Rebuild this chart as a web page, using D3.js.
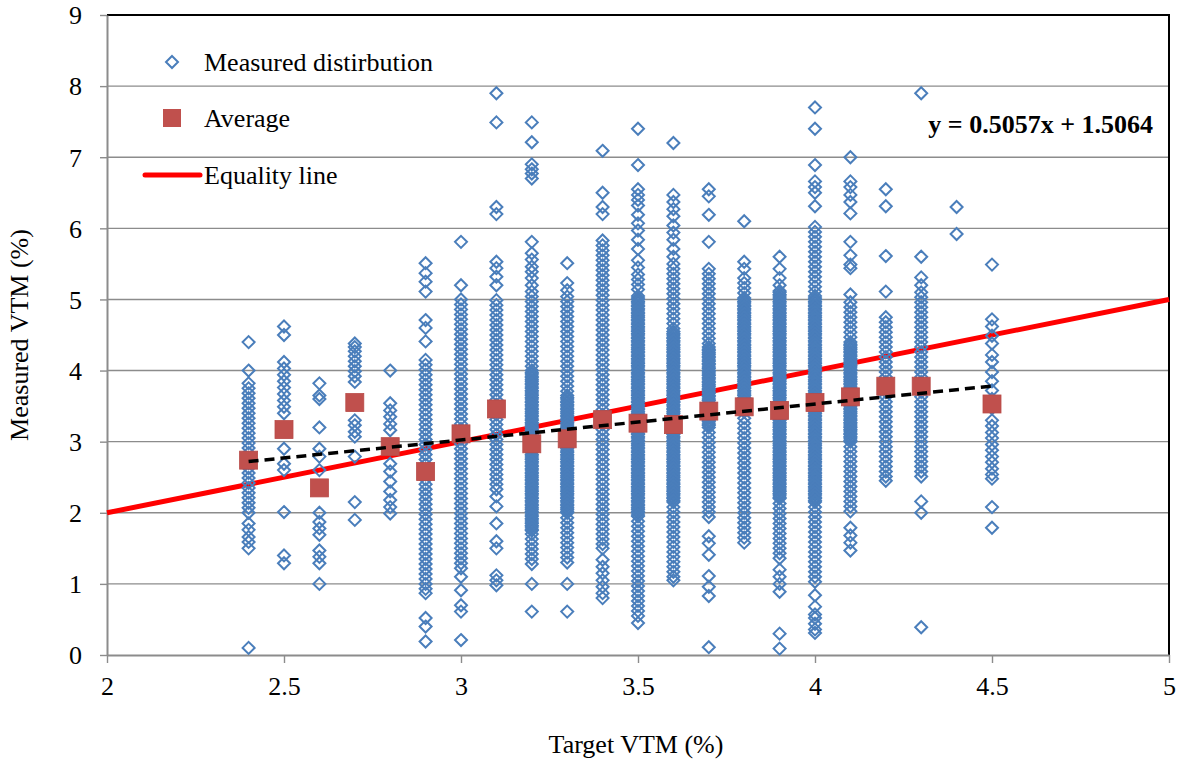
<!DOCTYPE html>
<html>
<head>
<meta charset="utf-8">
<script src="https://cdn.jsdelivr.net/npm/d3@7"></script>
<style>
  body { margin: 0; background: #fff; }
  text { font-family: "Liberation Serif", "Times New Roman", serif; }
</style>
</head>
<body>
<div class="chart"></div>
<script>
// target VTM (%) columns
var targetVTM = [2.4, 2.5, 2.6, 2.7, 2.8, 2.9, 3.0, 3.1, 3.2, 3.3, 3.4, 3.5, 3.6, 3.7, 3.8, 3.9, 4.0, 4.1, 4.2, 4.3, 4.4, 4.5];

// measured VTM (%), same order as targetVTM
var measuredVTM = [
  [4.4, 4.0, 3.82, 3.75, 3.68, 3.61, 3.54, 3.47, 3.4, 3.33, 3.26, 3.19, 3.12, 3.05, 2.98, 2.91, 2.84, 2.77, 2.7, 2.63, 2.56, 2.49, 2.42, 2.35, 2.28, 2.21, 2.14, 2.07, 2.0, 1.85, 1.76, 1.66, 1.59, 1.5, 0.1],
  [4.62, 4.5, 4.12, 4.03, 3.94, 3.85, 3.76, 3.67, 3.58, 3.49, 3.4, 2.9, 2.69, 2.6, 2.01, 1.4, 1.29],
  [3.82, 3.65, 3.6, 3.2, 2.9, 2.79, 2.6, 2.0, 1.87, 1.78, 1.69, 1.47, 1.38, 1.29, 1.0],
  [4.38, 4.33, 4.27, 4.2, 4.13, 4.06, 3.99, 3.92, 3.84, 3.3, 3.23, 3.14, 3.07, 2.79, 2.15, 1.9],
  [4.0, 3.54, 3.44, 3.35, 3.25, 3.16, 2.69, 2.58, 2.44, 2.3, 2.18, 2.08, 1.99],
  [5.51, 5.37, 5.25, 5.11, 4.71, 4.6, 4.41, 4.15, 4.08, 4.01, 3.94, 3.87, 3.8, 3.73, 3.66, 3.59, 3.52, 3.45, 3.38, 3.31, 3.24, 3.17, 3.1, 3.03, 2.96, 2.89, 2.82, 2.75, 2.68, 2.61, 2.54, 2.47, 2.4, 2.33, 2.26, 2.19, 2.12, 2.05, 1.98, 1.91, 1.84, 1.77, 1.7, 1.63, 1.56, 1.49, 1.42, 1.35, 1.28, 1.21, 1.14, 1.07, 1.0, 0.93, 0.87, 0.52, 0.4, 0.19],
  [5.81, 5.2, 5.0, 4.93, 4.86, 4.79, 4.72, 4.65, 4.58, 4.51, 4.44, 4.37, 4.3, 4.23, 4.16, 4.09, 4.02, 3.95, 3.88, 3.81, 3.74, 3.67, 3.6, 3.53, 3.46, 3.39, 3.32, 3.25, 3.18, 3.11, 3.04, 2.97, 2.9, 2.83, 2.76, 2.69, 2.62, 2.55, 2.48, 2.41, 2.34, 2.27, 2.2, 2.13, 2.06, 1.99, 1.92, 1.85, 1.78, 1.71, 1.64, 1.57, 1.5, 1.43, 1.36, 1.29, 1.22, 1.1, 0.91, 0.7, 0.61, 0.21],
  [7.9, 7.49, 6.3, 6.2, 5.53, 5.44, 5.32, 5.2, 4.99, 4.92, 4.85, 4.78, 4.71, 4.64, 4.57, 4.5, 4.43, 4.36, 4.29, 4.22, 4.15, 4.08, 4.01, 3.94, 3.87, 3.8, 3.73, 3.66, 3.59, 3.52, 3.45, 3.38, 3.31, 3.24, 3.17, 3.1, 3.03, 2.96, 2.89, 2.82, 2.75, 2.68, 2.61, 2.54, 2.47, 2.4, 2.33, 2.23, 2.09, 1.85, 1.6, 1.5, 1.12, 1.05, 0.98],
  [7.49, 7.21, 6.9, 6.83, 6.77, 6.7, 5.81, 5.65, 5.56, 5.46, 5.39, 5.3, 5.2, 5.11, 5.04, 4.97, 4.9, 4.83, 4.76, 4.69, 4.62, 4.55, 4.48, 4.41, 4.34, 4.27, 4.2, 4.13, 4.06, 4.0, 3.95, 3.9, 3.85, 3.8, 3.75, 3.7, 3.65, 3.6, 3.55, 3.5, 3.45, 3.4, 3.35, 3.3, 3.25, 3.2, 3.15, 3.1, 3.05, 3.0, 2.95, 2.9, 2.85, 2.8, 2.75, 2.7, 2.65, 2.6, 2.55, 2.5, 2.45, 2.4, 2.35, 2.3, 2.25, 2.2, 2.15, 2.1, 2.05, 2.0, 1.95, 1.9, 1.85, 1.8, 1.75, 1.7, 1.63, 1.56, 1.49, 1.42, 1.35, 1.28, 1.0, 0.61,
   3.97, 3.92, 3.87, 3.82, 3.77, 3.72, 3.67, 3.62, 3.57, 3.52, 3.47, 3.42, 3.37, 3.32, 3.27, 3.22, 3.17, 3.12, 3.07, 3.02, 2.97, 2.92, 2.87, 2.82, 2.77, 2.72, 2.67, 2.62, 2.57, 2.52, 2.47, 2.42, 2.37, 2.32, 2.27, 2.22, 2.17, 2.12, 2.07, 2.02, 1.97, 1.92, 1.87, 1.82, 1.77],
  [5.51, 5.23, 5.13, 5.04, 4.97, 4.9, 4.83, 4.76, 4.69, 4.62, 4.55, 4.48, 4.41, 4.34, 4.27, 4.2, 4.13, 4.06, 3.99, 3.92, 3.85, 3.78, 3.71, 3.65, 3.6, 3.55, 3.5, 3.45, 3.4, 3.35, 3.3, 3.25, 3.2, 3.15, 3.1, 3.05, 3.0, 2.95, 2.9, 2.85, 2.8, 2.75, 2.7, 2.65, 2.6, 2.55, 2.5, 2.45, 2.4, 2.35, 2.3, 2.25, 2.2, 2.15, 2.1, 2.05, 2.0, 1.93, 1.86, 1.79, 1.72, 1.65, 1.58, 1.51, 1.44, 1.37, 1.3, 1.0, 0.61,
   3.62, 3.57, 3.52, 3.47, 3.42, 3.37, 3.32, 3.27, 3.22, 3.17, 3.12, 3.07, 3.02, 2.97, 2.92, 2.87, 2.82, 2.77, 2.72, 2.67, 2.62, 2.57, 2.52, 2.47, 2.42, 2.37, 2.32, 2.27, 2.22, 2.17, 2.12, 2.07, 2.02],
  [7.09, 6.5, 6.3, 6.2, 5.83, 5.76, 5.69, 5.62, 5.55, 5.48, 5.41, 5.34, 5.27, 5.2, 5.13, 5.06, 4.99, 4.92, 4.85, 4.78, 4.71, 4.64, 4.57, 4.5, 4.43, 4.36, 4.29, 4.22, 4.15, 4.08, 4.01, 3.94, 3.87, 3.8, 3.73, 3.66, 3.59, 3.52, 3.45, 3.38, 3.31, 3.24, 3.17, 3.1, 3.03, 2.96, 2.89, 2.82, 2.75, 2.68, 2.61, 2.54, 2.47, 2.4, 2.33, 2.26, 2.19, 2.12, 2.05, 1.98, 1.91, 1.84, 1.77, 1.7, 1.63, 1.56, 1.5, 1.34, 1.24, 1.15, 1.05, 0.96, 0.87, 0.8],
  [7.4, 6.89, 6.55, 6.47, 6.4, 6.32, 6.19, 6.07, 5.97, 5.84, 5.71, 5.55, 5.45, 5.35, 5.28, 5.21, 5.14, 5.05, 5.0, 4.95, 4.9, 4.85, 4.8, 4.75, 4.7, 4.65, 4.6, 4.55, 4.5, 4.45, 4.4, 4.35, 4.3, 4.25, 4.2, 4.15, 4.1, 4.05, 4.0, 3.95, 3.9, 3.85, 3.8, 3.75, 3.7, 3.65, 3.6, 3.55, 3.5, 3.45, 3.4, 3.35, 3.3, 3.25, 3.2, 3.15, 3.1, 3.05, 3.0, 2.95, 2.9, 2.85, 2.8, 2.75, 2.7, 2.65, 2.6, 2.55, 2.5, 2.45, 2.4, 2.35, 2.3, 2.25, 2.2, 2.15, 2.1, 2.05, 2.0, 1.95, 1.88, 1.81, 1.74, 1.67, 1.6, 1.53, 1.46, 1.39, 1.32, 1.25, 1.18, 1.11, 1.04, 0.97, 0.9, 0.83, 0.76, 0.69, 0.62, 0.55, 0.45,
   5.02, 4.97, 4.92, 4.87, 4.82, 4.77, 4.72, 4.67, 4.62, 4.57, 4.52, 4.47, 4.42, 4.37, 4.32, 4.27, 4.22, 4.17, 4.12, 4.07, 4.02, 3.97, 3.92, 3.87, 3.82, 3.77, 3.72, 3.67, 3.62, 3.57, 3.52, 3.47, 3.42, 3.37, 3.32, 3.27, 3.22, 3.17, 3.12, 3.07, 3.02, 2.97, 2.92, 2.87, 2.82, 2.77, 2.72, 2.67, 2.62, 2.57, 2.52, 2.47, 2.42, 2.37, 2.32, 2.27, 2.22, 2.17, 2.12, 2.07, 2.02, 1.97],
  [7.2, 6.47, 6.37, 6.27, 6.17, 6.04, 5.94, 5.84, 5.71, 5.6, 5.5, 5.43, 5.36, 5.29, 5.22, 5.15, 5.08, 5.01, 4.94, 4.87, 4.8, 4.73, 4.66, 4.59, 4.55, 4.5, 4.45, 4.4, 4.35, 4.3, 4.25, 4.2, 4.15, 4.1, 4.05, 4.0, 3.95, 3.9, 3.85, 3.8, 3.75, 3.7, 3.65, 3.6, 3.55, 3.5, 3.45, 3.4, 3.35, 3.3, 3.25, 3.2, 3.15, 3.1, 3.05, 3.0, 2.95, 2.9, 2.85, 2.8, 2.75, 2.7, 2.65, 2.6, 2.55, 2.5, 2.45, 2.4, 2.35, 2.3, 2.25, 2.2, 2.15, 2.08, 2.01, 1.94, 1.87, 1.8, 1.73, 1.66, 1.59, 1.52, 1.45, 1.38, 1.31, 1.24, 1.17, 1.1, 1.05,
   4.52, 4.47, 4.42, 4.37, 4.32, 4.27, 4.22, 4.17, 4.12, 4.07, 4.02, 3.97, 3.92, 3.87, 3.82, 3.77, 3.72, 3.67, 3.62, 3.57, 3.52, 3.47, 3.42, 3.37, 3.32, 3.27, 3.22, 3.17, 3.12, 3.07, 3.02, 2.97, 2.92, 2.87, 2.82, 2.77, 2.72, 2.67, 2.62, 2.57, 2.52, 2.47, 2.42, 2.37, 2.32, 2.27, 2.22, 2.17],
  [6.55, 6.45, 6.19, 5.81, 5.43, 5.36, 5.29, 5.22, 5.15, 5.08, 5.01, 4.94, 4.87, 4.8, 4.73, 4.66, 4.59, 4.52, 4.45, 4.38, 4.33, 4.28, 4.23, 4.18, 4.13, 4.08, 4.03, 3.98, 3.93, 3.88, 3.83, 3.78, 3.73, 3.68, 3.63, 3.58, 3.53, 3.48, 3.43, 3.38, 3.33, 3.28, 3.23, 3.2, 3.13, 3.06, 2.99, 2.92, 2.85, 2.78, 2.71, 2.64, 2.57, 2.5, 2.43, 2.36, 2.29, 2.22, 2.15, 2.08, 2.01, 1.94, 1.67, 1.57, 1.41, 1.11, 0.96, 0.83, 0.11,
   4.3, 4.25, 4.2, 4.15, 4.1, 4.05, 4.0, 3.95, 3.9, 3.85, 3.8, 3.75, 3.7, 3.65, 3.6, 3.55, 3.5, 3.45, 3.4, 3.35, 3.3, 3.25],
  [6.1, 5.53, 5.43, 5.3, 5.23, 5.16, 5.09, 5.02, 4.97, 4.92, 4.87, 4.82, 4.77, 4.72, 4.67, 4.62, 4.57, 4.52, 4.47, 4.42, 4.37, 4.32, 4.27, 4.22, 4.17, 4.12, 4.07, 4.02, 3.97, 3.92, 3.87, 3.82, 3.77, 3.72, 3.67, 3.62, 3.57, 3.52, 3.47, 3.42, 3.33, 3.26, 3.19, 3.12, 3.05, 2.98, 2.91, 2.84, 2.77, 2.7, 2.63, 2.56, 2.49, 2.42, 2.35, 2.28, 2.21, 2.14, 2.07, 2.0, 1.93, 1.86, 1.79, 1.72, 1.65, 1.58,
   5.0, 4.95, 4.9, 4.85, 4.8, 4.75, 4.7, 4.65, 4.6, 4.55, 4.5, 4.45, 4.4, 4.35, 4.3, 4.25, 4.2, 4.15, 4.1, 4.05, 4.0, 3.95, 3.9, 3.85, 3.8, 3.75, 3.7, 3.65, 3.6, 3.55, 3.5, 3.45],
  [5.6, 5.43, 5.3, 5.2, 5.12, 5.07, 5.02, 4.97, 4.92, 4.87, 4.82, 4.77, 4.72, 4.67, 4.62, 4.57, 4.52, 4.47, 4.42, 4.37, 4.32, 4.27, 4.22, 4.17, 4.12, 4.07, 4.02, 3.97, 3.92, 3.87, 3.82, 3.77, 3.72, 3.67, 3.62, 3.57, 3.52, 3.47, 3.42, 3.37, 3.32, 3.27, 3.22, 3.17, 3.12, 3.07, 3.02, 2.97, 2.92, 2.87, 2.82, 2.77, 2.72, 2.67, 2.62, 2.57, 2.52, 2.47, 2.42, 2.37, 2.32, 2.27, 2.22, 2.13, 2.06, 1.99, 1.92, 1.85, 1.78, 1.71, 1.64, 1.57, 1.5, 1.43, 1.36, 1.2, 1.1, 1.0, 0.89, 0.3, 0.09,
   5.1, 5.05, 5.0, 4.95, 4.9, 4.85, 4.8, 4.75, 4.7, 4.65, 4.6, 4.55, 4.5, 4.45, 4.4, 4.35, 4.3, 4.25, 4.2, 4.15, 4.1, 4.05, 4.0, 3.95, 3.9, 3.85, 3.8, 3.75, 3.7, 3.65, 3.6, 3.55, 3.5, 3.45, 3.4, 3.35, 3.3, 3.25, 3.2, 3.15, 3.1, 3.05, 3.0, 2.95, 2.9, 2.85, 2.8, 2.75, 2.7, 2.65, 2.6, 2.55, 2.5, 2.45, 2.4, 2.35, 2.3, 2.25, 2.2],
  [7.7, 7.4, 6.89, 6.66, 6.58, 6.5, 6.31, 6.02, 5.95, 5.88, 5.81, 5.74, 5.67, 5.6, 5.53, 5.46, 5.39, 5.32, 5.25, 5.18, 5.11, 5.05, 5.0, 4.95, 4.9, 4.85, 4.8, 4.75, 4.7, 4.65, 4.6, 4.55, 4.5, 4.45, 4.4, 4.35, 4.3, 4.25, 4.2, 4.15, 4.1, 4.05, 4.0, 3.95, 3.9, 3.85, 3.8, 3.75, 3.7, 3.65, 3.6, 3.55, 3.5, 3.45, 3.4, 3.35, 3.3, 3.25, 3.2, 3.15, 3.1, 3.05, 3.0, 2.95, 2.9, 2.85, 2.8, 2.75, 2.7, 2.65, 2.6, 2.55, 2.5, 2.45, 2.4, 2.35, 2.3, 2.25, 2.2, 2.15, 2.08, 2.01, 1.94, 1.87, 1.8, 1.73, 1.66, 1.59, 1.52, 1.45, 1.38, 1.31, 1.24, 1.17, 1.1, 1.03, 0.84, 0.68, 0.57, 0.52, 0.44, 0.36, 0.31,
   5.02, 4.97, 4.92, 4.87, 4.82, 4.77, 4.72, 4.67, 4.62, 4.57, 4.52, 4.47, 4.42, 4.37, 4.32, 4.27, 4.22, 4.17, 4.12, 4.07, 4.02, 3.97, 3.92, 3.87, 3.82, 3.77, 3.72, 3.67, 3.62, 3.57, 3.52, 3.47, 3.42, 3.37, 3.32, 3.27, 3.22, 3.17, 3.12, 3.07, 3.02, 2.97, 2.92, 2.87, 2.82, 2.77, 2.72, 2.67, 2.62, 2.57, 2.52, 2.47, 2.42, 2.37, 2.32, 2.27, 2.22, 2.17],
  [7.0, 6.66, 6.58, 6.47, 6.37, 6.21, 5.81, 5.62, 5.49, 5.44, 5.07, 4.96, 4.89, 4.82, 4.75, 4.68, 4.61, 4.54, 4.47, 4.4, 4.35, 4.3, 4.25, 4.2, 4.15, 4.1, 4.05, 4.0, 3.95, 3.9, 3.85, 3.8, 3.75, 3.7, 3.65, 3.6, 3.55, 3.5, 3.45, 3.4, 3.35, 3.3, 3.25, 3.2, 3.15, 3.1, 3.05, 3.0, 2.93, 2.86, 2.79, 2.72, 2.65, 2.58, 2.51, 2.44, 2.37, 2.3, 2.23, 2.16, 2.09, 2.02, 1.79, 1.68, 1.58, 1.47,
   4.37, 4.32, 4.27, 4.22, 4.17, 4.12, 4.07, 4.02, 3.97, 3.92, 3.87, 3.82, 3.77, 3.72, 3.67, 3.62, 3.57, 3.52, 3.47, 3.42, 3.37, 3.32, 3.27, 3.22, 3.17, 3.12, 3.07, 3.02],
  [6.55, 6.31, 5.61, 5.11, 4.75, 4.68, 4.61, 4.54, 4.47, 4.4, 4.33, 4.26, 4.19, 4.12, 4.05, 3.98, 3.91, 3.84, 3.77, 3.7, 3.63, 3.56, 3.49, 3.42, 3.35, 3.28, 3.21, 3.14, 3.07, 3.0, 2.93, 2.86, 2.79, 2.72, 2.65, 2.58, 2.51, 2.45],
  [7.9, 5.6, 5.31, 5.2, 5.1, 5.03, 4.96, 4.89, 4.82, 4.75, 4.68, 4.61, 4.54, 4.47, 4.4, 4.33, 4.26, 4.19, 4.12, 4.05, 3.98, 3.91, 3.84, 3.77, 3.7, 3.63, 3.56, 3.49, 3.42, 3.35, 3.28, 3.21, 3.14, 3.07, 3.0, 2.93, 2.86, 2.79, 2.72, 2.65, 2.58, 2.51, 2.16, 2.0, 0.39],
  [6.3, 5.92],
  [5.49, 4.72, 4.62, 4.49, 4.38, 4.22, 4.12, 3.98, 3.85, 3.72, 3.6, 3.47, 3.3, 3.22, 3.13, 3.05, 2.96, 2.88, 2.79, 2.71, 2.62, 2.54, 2.48, 2.08, 1.79]
];

// averages (no average plotted at 4.4)
var avgTarget = [2.4, 2.5, 2.6, 2.7, 2.8, 2.9, 3.0, 3.1, 3.2, 3.3, 3.4, 3.5, 3.6, 3.7, 3.8, 3.9, 4.0, 4.1, 4.2, 4.3, 4.5];
var avgMeasured = [2.74, 3.17, 2.35, 3.55, 2.93, 2.58, 3.11, 3.46, 2.97, 3.04, 3.31, 3.26, 3.24, 3.43, 3.49, 3.44, 3.55, 3.63, 3.78, 3.78, 3.53];

// linear trend of the averages
var fitSlope = 0.5057;
var fitIntercept = 1.5064;
var fitRange = [2.4, 4.5];

var xTicks = [2, 2.5, 3, 3.5, 4, 4.5, 5];
var yTicks = [0, 1, 2, 3, 4, 5, 6, 7, 8, 9];

var margin = { top: 15, right: 11, bottom: 108, left: 107 };
var fullWidth = 1180;
var fullHeight = 763;
var width = fullWidth - margin.left - margin.right;
var height = fullHeight - margin.top - margin.bottom;

var blue = '#4A7EBB';
var red = '#C0504D';
var gridGray = '#8C8C8C';

var svgRoot = d3.select('.chart')
  .append('svg')
  .attr('width', fullWidth)
  .attr('height', fullHeight);

var svg = svgRoot.append('g')
  .attr('transform', `translate(${margin.left}, ${margin.top})`);

var xScale = d3.scaleLinear().domain([2, 5]).range([0, width]);
var yScale = d3.scaleLinear().domain([0, 9]).range([height, 0]);

// horizontal gridlines
svg.selectAll('.grid')
  .data(yTicks.filter(d => d > 0 && d < 9))
  .enter()
  .append('line')
  .attr('class', 'grid')
  .attr('x1', 0)
  .attr('x2', width)
  .attr('y1', d => yScale(d))
  .attr('y2', d => yScale(d))
  .style('stroke', gridGray)
  .style('stroke-width', 1.4);

// top and right frame
svg.append('path')
  .attr('d', `M0,0H${width}V${height}`)
  .style('fill', 'none')
  .style('stroke', '#000')
  .style('stroke-width', 2);

// axes
var xAxis = svg.append('g')
  .attr('transform', `translate(0, ${height})`)
  .call(d3.axisBottom(xScale).tickValues(xTicks).tickSize(8).tickSizeOuter(0).tickPadding(14).tickFormat(d => d));

var yAxis = svg.append('g')
  .call(d3.axisLeft(yScale).tickValues(yTicks).tickSize(7).tickSizeOuter(0).tickPadding(18).tickFormat(d => d));

[xAxis, yAxis].forEach(ax => {
  ax.select('.domain').style('stroke', gridGray).style('stroke-width', 2);
  ax.selectAll('.tick line').style('stroke', gridGray).style('stroke-width', 1.4);
  ax.selectAll('.tick text')
    .style('font-family', '"Liberation Serif", "Times New Roman", serif')
    .style('font-size', '26px')
    .style('fill', '#000');
});
yAxis.selectAll('.tick text').attr('dy', '0.34em');

// equality line y = x
svg.append('line')
  .attr('x1', xScale(2))
  .attr('y1', yScale(2))
  .attr('x2', xScale(5))
  .attr('y2', yScale(5))
  .style('stroke', '#FF0000')
  .style('stroke-width', 5);

// measured points
var diamond = 'M0,-6L6,0L0,6L-6,0Z';
var points = [];
targetVTM.forEach((t, i) => {
  measuredVTM[i].forEach(v => points.push({ target: t, measured: v }));
});

svg.selectAll('.dots')
  .data(points)
  .enter()
  .append('path')
  .attr('class', 'dots')
  .attr('d', diamond)
  .attr('transform', d => `translate(${xScale(d.target)}, ${yScale(d.measured)})`)
  .style('fill', 'none')
  .style('stroke', blue)
  .style('stroke-width', 2);

// averages
svg.selectAll('.avg')
  .data(avgTarget)
  .enter()
  .append('rect')
  .attr('class', 'avg')
  .attr('x', d => xScale(d) - 9)
  .attr('y', (d, i) => yScale(avgMeasured[i]) - 9)
  .attr('width', 18)
  .attr('height', 18)
  .style('fill', red)
  .style('stroke', '#B84A47')
  .style('stroke-width', 0.8);

// trend line
var trend = d3.line()
  .x(d => xScale(d))
  .y(d => yScale(fitSlope * d + fitIntercept));

svg.append('path')
  .attr('d', trend(fitRange))
  .style('fill', 'none')
  .style('stroke', '#000')
  .style('stroke-width', 3.5)
  .style('stroke-dasharray', '10,6');

svg.append('text')
  .attr('x', 1153 - margin.left)
  .attr('y', 133 - margin.top)
  .style('text-anchor', 'end')
  .style('font-size', '26px')
  .style('font-weight', 'bold')
  .text(`y = ${fitSlope}x + ${fitIntercept}`);

// legend
var lg = svgRoot.append('g');
lg.append('path')
  .attr('d', diamond)
  .attr('transform', 'translate(172, 62)')
  .style('fill', 'none')
  .style('stroke', blue)
  .style('stroke-width', 2);
lg.append('rect')
  .attr('x', 163).attr('y', 109).attr('width', 18).attr('height', 18)
  .style('fill', red);
lg.append('line')
  .attr('x1', 145).attr('x2', 200).attr('y1', 175).attr('y2', 175)
  .style('stroke', '#FF0000')
  .style('stroke-width', 5)
  .style('stroke-linecap', 'round');

[['Measured distirbution', 71], ['Average', 127], ['Equality line', 184]].forEach(l => {
  lg.append('text')
    .attr('x', 204)
    .attr('y', l[1])
    .style('font-size', '26px')
    .text(l[0]);
});

// axis titles
svgRoot.append('text')
  .attr('transform', 'translate(28, 335) rotate(-90)')
  .style('text-anchor', 'middle')
  .style('font-size', '26px')
  .text('Measured VTM (%)');

svgRoot.append('text')
  .attr('x', 636)
  .attr('y', 753)
  .style('text-anchor', 'middle')
  .style('font-size', '26px')
  .text('Target VTM (%)');
</script>
</body>
</html>
